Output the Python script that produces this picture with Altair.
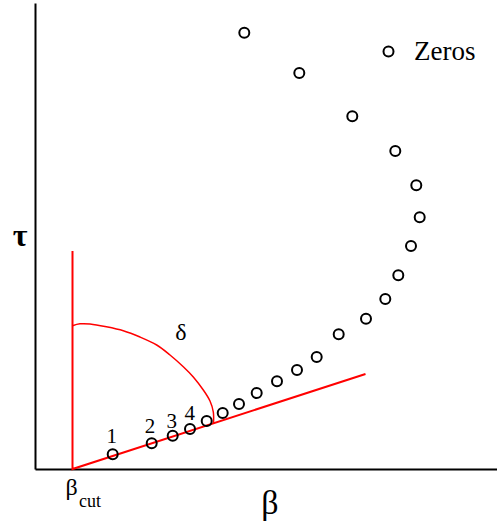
import altair as alt
import pandas as pd

# Zeros (beta, tau)
beta = [0.777, 1.167, 1.377, 1.55, 1.717, 1.877, 2.04, 2.217, 2.42, 2.62, 2.817,
        3.037, 3.31, 3.503, 3.633, 3.76, 3.847, 3.813, 3.603, 3.173, 2.643, 2.093]
tau = [0.147, 0.257, 0.333, 0.40, 0.48, 0.56, 0.65, 0.76, 0.877, 0.99, 1.12,
       1.347, 1.503, 1.70, 1.937, 2.23, 2.517, 2.837, 3.18, 3.527, 3.96, 4.363]

# red construction lines (vertical line, beta_cut, slanted line)
line_beta = [0.375, 0.375, 3.305]
line_tau = [2.18, 0.0, 0.95]

# red arc marking the angle delta
arc_beta = [0.375, 0.45, 0.55, 0.70, 0.883, 1.05, 1.217, 1.35, 1.483, 1.583, 1.683, 1.75, 1.783, 1.785]
arc_tau = [1.433, 1.452, 1.45, 1.425, 1.383, 1.32, 1.24, 1.14, 1.023, 0.92, 0.79, 0.68, 0.57, 0.46]

# annotation texts
label_text = ["1", "2", "3", "4", "δ", "β", "cut"]
label_beta = [0.767, 1.15, 1.367, 1.547, 1.46, 0.365, 0.44]
label_tau = [0.257, 0.357, 0.407, 0.49, 1.29, -0.26, -0.38]
label_size = [21, 21, 21, 21, 24, 24, 18]
label_align = ["center", "center", "center", "center", "center", "center", "left"]

FONT = "'Liberation Serif', 'Times New Roman', Times, serif"

pts = pd.DataFrame({"beta": beta, "tau": tau, "series": ["Zeros"] * len(beta)})
lines = pd.DataFrame({"beta": line_beta, "tau": line_tau, "o": list(range(len(line_beta)))})
arc = pd.DataFrame({"beta": arc_beta, "tau": arc_tau, "o": list(range(len(arc_beta)))})
labels = pd.DataFrame({"beta": label_beta, "tau": label_tau, "text": label_text,
                       "size": label_size, "align": label_align})

xs = alt.Scale(domain=[0, 4.62], nice=False, zero=False)
ys = alt.Scale(domain=[0, 4.66], nice=False, zero=False)

xaxis = alt.Axis(title="β", labels=False, ticks=False, grid=False, domainColor="black",
                 domainWidth=2, titleFont=FONT, titleFontSize=34, titleFontWeight="normal",
                 titleColor="black", titleX=234.5, titleY=44, titleAlign="center",
                 titleBaseline="alphabetic")
yaxis = alt.Axis(title="τ", labels=False, ticks=False, grid=False, domainColor="black",
                 domainWidth=2, titleFont=FONT, titleFontSize=32, titleFontWeight="bold",
                 titleColor="black", titleAngle=0, titleX=-15.5, titleY=242,
                 titleAlign="center", titleBaseline="alphabetic")

base_x = alt.X("beta:Q", scale=xs, axis=xaxis)
base_y = alt.Y("tau:Q", scale=ys, axis=yaxis)

red_lines = alt.Chart(lines).mark_line(color="#ff0000", strokeWidth=2, clip=False).encode(
    x=base_x, y=base_y, order="o:Q")

red_arc = alt.Chart(arc).mark_line(color="#ff0000", strokeWidth=1.5, interpolate="cardinal").encode(
    x=alt.X("beta:Q", scale=xs), y=alt.Y("tau:Q", scale=ys), order="o:Q")

points = alt.Chart(pts).mark_point(shape="circle", filled=False, size=100, strokeWidth=2, opacity=1).encode(
    x=alt.X("beta:Q", scale=xs),
    y=alt.Y("tau:Q", scale=ys),
    color=alt.Color("series:N", scale=alt.Scale(range=["black"]),
                    legend=alt.Legend(title=None, orient="none", legendX=340, legendY=35,
                                      labelFont=FONT, labelFontSize=27, labelColor="black",
                                      symbolSize=100, symbolStrokeWidth=2, symbolType="circle",
                                      labelOffset=12, padding=0)),
)

texts_c = alt.Chart(labels[labels["align"] == "center"]).mark_text(
    font=FONT, color="black", baseline="alphabetic", align="center").encode(
    x=alt.X("beta:Q", scale=xs), y=alt.Y("tau:Q", scale=ys),
    text="text:N", size=alt.Size("size:Q", scale=None))
texts_l = alt.Chart(labels[labels["align"] == "left"]).mark_text(
    font=FONT, color="black", baseline="alphabetic", align="left").encode(
    x=alt.X("beta:Q", scale=xs), y=alt.Y("tau:Q", scale=ys),
    text="text:N", size=alt.Size("size:Q", scale=None))

chart = alt.layer(red_lines, red_arc, points, texts_c, texts_l).properties(
    width=462, height=466,
    autosize=alt.AutoSizeParams(type="none"),
    padding={"left": 35, "top": 3, "right": 0, "bottom": 56},
    background="white",
).configure_view(stroke=None)

chart.save("out.html", embed_options={"renderer": "svg", "actions": False})
